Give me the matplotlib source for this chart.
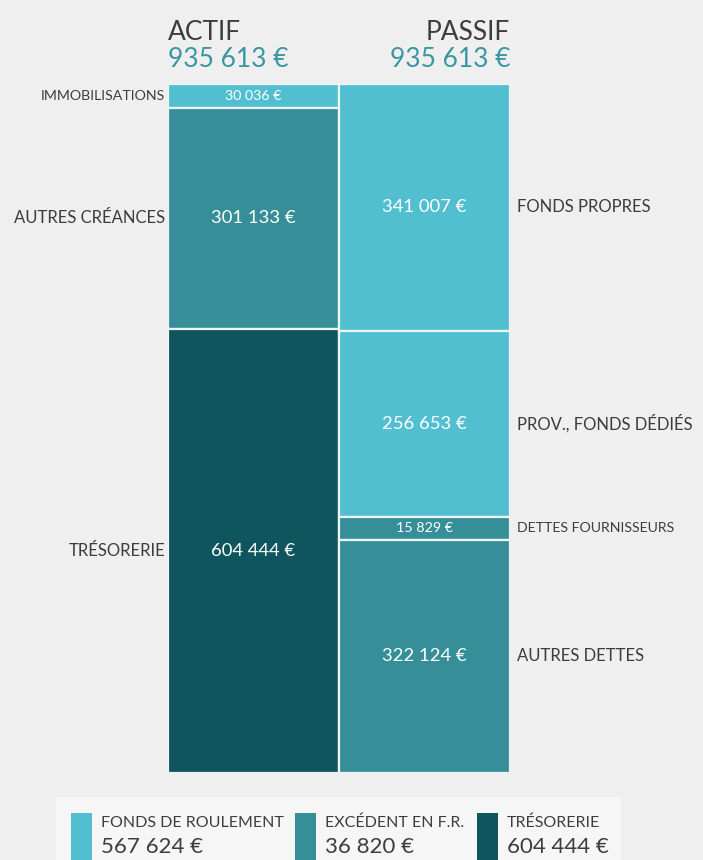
import matplotlib.pyplot as plt
import numpy as np

# bilan : actif / passif
actif_labels = ["IMMOBILISATIONS", "AUTRES CRÉANCES", "TRÉSORERIE"]
actif_values = [30036, 301133, 604444]
passif_labels = ["FONDS PROPRES", "PROV., FONDS DÉDIÉS", "DETTES FOURNISSEURS", "AUTRES DETTES"]
passif_values = [341007, 256653, 15829, 322124]
legend_labels = ["FONDS DE ROULEMENT", "EXCÉDENT EN F.R.", "TRÉSORERIE"]
legend_values = [567624, 36820, 604444]

LIGHT = "#52BFD1"
MID = "#368E99"
DARK = "#0F555D"
TEAL_TXT = "#3A97A2"
GREY_TXT = "#3D3D3D"
BG = "#EFEFEF"

actif_colors = [LIGHT, MID, DARK]
passif_colors = [LIGHT, LIGHT, MID, MID]
legend_colors = [LIGHT, MID, DARK]

plt.rcParams['font.family'] = ['Lato', 'DejaVu Sans']


def euro(v):
    return f"{v:,}".replace(",", " ") + " €"


def display_sizes(values, total, min_val=32000):
    # tiny segments get a minimum height so their label fits, then rescale
    v = np.maximum(np.array(values, dtype=float), min_val)
    return v * total / v.sum()


total = sum(actif_values)

fig = plt.figure(figsize=(7.03, 8.6), dpi=100)
fig.patch.set_facecolor(BG)

ax = fig.add_axes([168 / 703, (860 - 773) / 860, 342 / 703, 689 / 860])
ax.set_xlim(0, 2)
ax.set_ylim(total, 0)
ax.axis("off")


def draw_column(x, labels, values, colors, side):
    sizes = display_sizes(values, total)
    bottoms = np.concatenate([[0], np.cumsum(sizes)[:-1]])
    ax.bar([x] * len(sizes), sizes, bottom=bottoms, width=1.0, color=colors,
           edgecolor="#EEF5F6", linewidth=1.6)
    for lab, val, sz, b in zip(labels, values, sizes, bottoms):
        yc = b + sz / 2
        small = val < 50000
        ax.text(x, yc, euro(val), ha="center", va="center", color="white",
                fontsize=10.3 if small else 13.3)
        if side == "left":
            ax.annotate(lab, xy=(x - 0.5, yc), xytext=(-2, 0), textcoords="offset points",
                        ha="right", va="center", color=GREY_TXT,
                        fontsize=10.2 if small else 12, annotation_clip=False)
        else:
            ax.annotate(lab, xy=(x + 0.5, yc), xytext=(5, 0), textcoords="offset points",
                        ha="left", va="center", color=GREY_TXT,
                        fontsize=10.2 if small else 12, annotation_clip=False)


draw_column(0.5, actif_labels, actif_values, actif_colors, "left")
draw_column(1.5, passif_labels, passif_values, passif_colors, "right")

# headers
ax.annotate("ACTIF", xy=(0, 0), xytext=(0, 32), textcoords="offset points",
            ha="left", va="baseline", fontsize=19, color=GREY_TXT, annotation_clip=False)
ax.annotate(euro(sum(actif_values)), xy=(0, 0), xytext=(0, 12), textcoords="offset points",
            ha="left", va="baseline", fontsize=19, color=TEAL_TXT, annotation_clip=False)
ax.annotate("PASSIF", xy=(2, 0), xytext=(0, 32), textcoords="offset points",
            ha="right", va="baseline", fontsize=19, color=GREY_TXT, annotation_clip=False)
ax.annotate(euro(sum(passif_values)), xy=(2, 0), xytext=(0, 12), textcoords="offset points",
            ha="right", va="baseline", fontsize=19, color=TEAL_TXT, annotation_clip=False)

# legend box at the bottom
fig.patches.append(plt.Rectangle((56 / 703, 0), (621 - 56) / 703, 63 / 860,
                                 transform=fig.transFigure, facecolor="#F6F6F6",
                                 edgecolor="none", zorder=0))
sq_x = [71, 295, 477]
for px, lab, val, col in zip(sq_x, legend_labels, legend_values, legend_colors):
    fig.patches.append(plt.Rectangle((px / 703, 0), 21 / 703, 47 / 860,
                                     transform=fig.transFigure, facecolor=col,
                                     edgecolor="none", zorder=1))
    fig.text((px + 30) / 703, (860 - 823) / 860, lab, ha="left", va="center",
             fontsize=11.5, color=GREY_TXT)
    fig.text((px + 30) / 703, (860 - 847) / 860, euro(val), ha="left", va="center",
             fontsize=16, color=GREY_TXT)

fig.savefig("out.png", dpi=100, facecolor=BG)
